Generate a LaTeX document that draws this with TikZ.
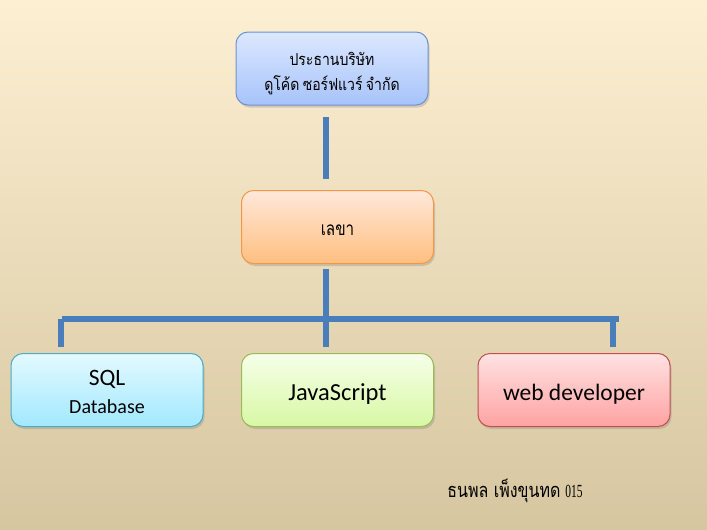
\documentclass[tikz,border=0pt]{standalone}
\usepackage{fontspec}
\setmainfont{Liberation Serif}
\newfontfamily\thaifont[Script=Thai,FakeStretch=0.85,WordSpace=0.7]{Loma}
\newfontfamily\thaisec[Script=Thai,FakeStretch=0.8]{Loma}
\newfontfamily\thaiauthor[Script=Thai,FakeStretch=0.8]{Loma}
\newfontfamily\narrowserif[FakeStretch=0.62]{Liberation Serif}
\newfontfamily\calib{Carlito}
\usetikzlibrary{shadows}
\newcommand{\lowertext}[2]{\raisebox{-#1}[\height][\depth]{#2}}
\definecolor{bgtop}{HTML}{FDEFD2}
\definecolor{bgmid}{HTML}{F1EAD4}
\definecolor{bgbot}{HTML}{D6C6A0}
\definecolor{linkblue}{HTML}{4A7EBB}
\definecolor{ceotop}{HTML}{DDE8FF}
\definecolor{ceobot}{HTML}{A6C3FA}
\definecolor{ceoline}{HTML}{6E93D3}
\definecolor{sectop}{HTML}{FFE8DA}
\definecolor{secbot}{HTML}{FFBF80}
\definecolor{secline}{HTML}{F79646}
\definecolor{sqltop}{HTML}{E3FAFF}
\definecolor{sqlbot}{HTML}{A2E8FF}
\definecolor{sqlline}{HTML}{4BACC6}
\definecolor{jstop}{HTML}{F6FFE9}
\definecolor{jsbot}{HTML}{D7F8A4}
\definecolor{jsline}{HTML}{9BBB59}
\definecolor{webtop}{HTML}{FFE2E2}
\definecolor{webbot}{HTML}{FFA2A2}
\definecolor{webline}{HTML}{C0504D}
\begin{document}
\begin{tikzpicture}[x=1pt,y=-1pt,
  box/.style={rounded corners=12pt, minimum width=192pt, minimum height=73pt,
    line width=1pt, inner sep=0pt, align=center,
    drop shadow={opacity=0.3, shadow xshift=1.5pt, shadow yshift=-2.5pt}},
  conn/.style={line width=6pt, draw=linkblue},
  thaitext/.style={font=\thaifont\fontsize{16.5}{25}\selectfont},
  latintext/.style={font=\calib\fontsize{23.5}{28}\selectfont}]
\shade[top color=bgtop, middle color=bgmid, bottom color=bgbot] (0,0) rectangle (707,530);
\useasboundingbox (0,0) rectangle (707,530);

\node[box, draw=ceoline, top color=ceotop, bottom color=ceobot, thaitext] (ceo) at (332,68.5)
  {\lowertext{5pt}{ประธานบริษัท}\\\lowertext{5pt}{ดูโค้ด ซอร์ฟแวร์ จำกัด}};
\node[box, draw=secline, top color=sectop, bottom color=secbot,
      font=\thaisec\fontsize{19}{25}\selectfont] (sec) at (337.5,227)
  {\lowertext{3pt}{เลขา}};
\node[box, draw=sqlline, top color=sqltop, bottom color=sqlbot, latintext] (sql) at (107,390)
  {\lowertext{1.5pt}{SQL}\\\fontsize{20}{28}\selectfont\lowertext{1.5pt}{Database}};
\node[box, draw=jsline, top color=jstop, bottom color=jsbot, latintext] (js) at (337.5,390)
  {\fontsize{24.5}{28}\selectfont\lowertext{4pt}{JavaScript}};
\node[box, draw=webline, top color=webtop, bottom color=webbot, latintext] (web) at (574,390)
  {\lowertext{4pt}{web developer}};

\node[inner sep=0pt] (author) at (515,491)
  {{\thaiauthor\fontsize{20}{22}\selectfont ธนพล เพ็งขุนทด}\hspace{5pt}{\narrowserif\fontsize{18.5}{20}\selectfont 015}};

\coordinate (c1a) at (326,117);
\coordinate (c1b) at (326,179);
\coordinate (c2a) at (326,269);
\coordinate (c2b) at (326,347);
\coordinate (hl) at (62,319);
\coordinate (hr) at (619,319);
\coordinate (dla) at (61,319);
\coordinate (dlb) at (61,347);
\coordinate (dra) at (613,322);
\coordinate (drb) at (613,347);

\draw[conn] (c1a) -- (c1b);
\draw[conn] (hl) -- (hr);
\draw[conn] (c2a) -- (c2b);
\draw[conn] (dla) -- (dlb);
\draw[conn] (dra) -- (drb);
\end{tikzpicture}
\end{document}
